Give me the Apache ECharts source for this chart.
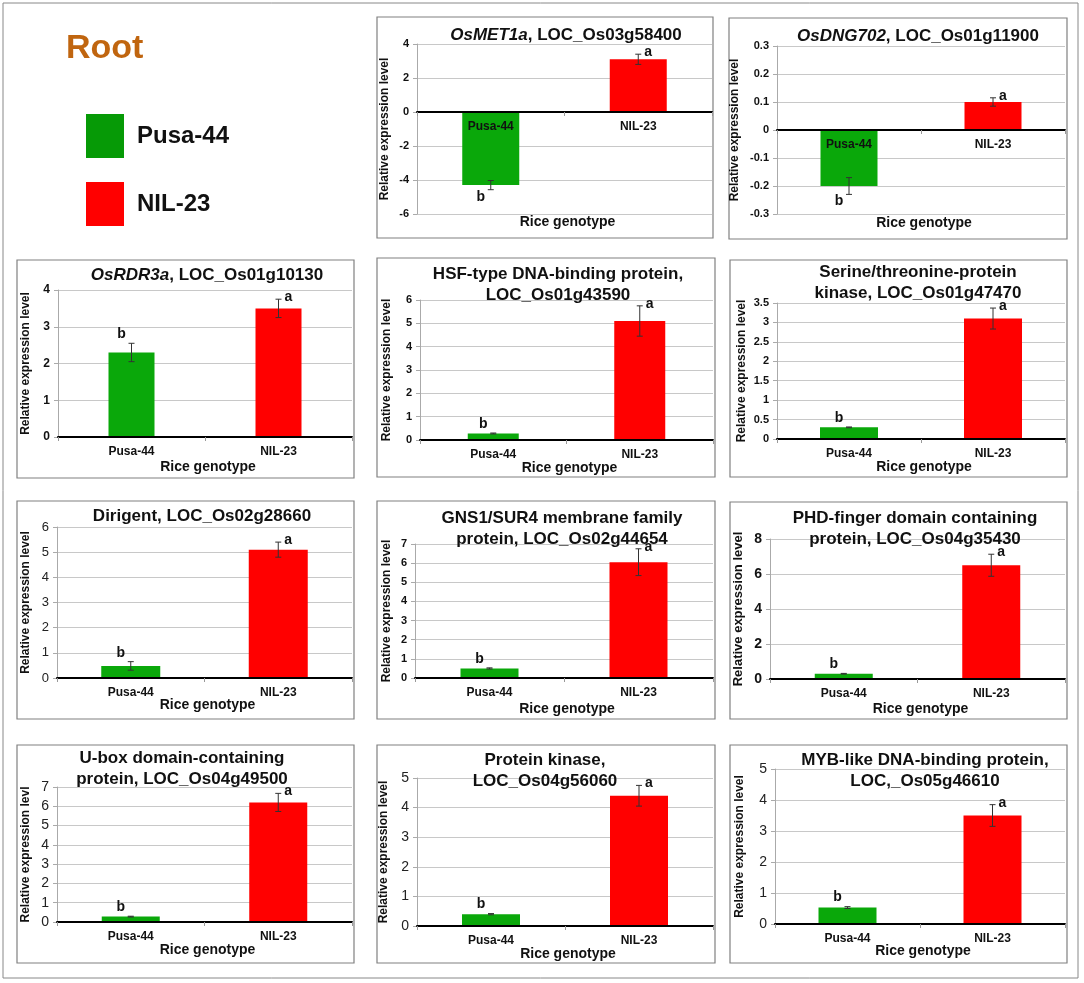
<!DOCTYPE html>
<html>
<head>
<meta charset="utf-8">
<title>Root - relative expression</title>
<script src="https://cdn.jsdelivr.net/npm/echarts@6/dist/echarts.min.js"></script>
<style>
  html, body { margin: 0; padding: 0; background: #fff; }
  #chart { width: 1084px; height: 983px; }
</style>
</head>
<body>
<div id="chart"></div>
<script>
// ---- data ----
const genotypes = ['Pusa-44', 'NIL-23'];
const geneTitles = [
  '{i|OsMET1a}, LOC_Os03g58400',
  '{i|OsDNG702}, LOC_Os01g11900',
  '{i|OsRDR3a}, LOC_Os01g10130',
  'HSF-type DNA-binding protein,\nLOC_Os01g43590',
  'Serine/threonine-protein\nkinase, LOC_Os01g47470',
  'Dirigent, LOC_Os02g28660',
  'GNS1/SUR4 membrane family\nprotein, LOC_Os02g44654',
  'PHD-finger domain containing\nprotein, LOC_Os04g35430',
  'U-box domain-containing\nprotein, LOC_Os04g49500',
  'Protein kinase,\nLOC_Os04g56060',
  'MYB-like DNA-binding protein,\nLOC,_Os05g46610'
];
const pusaValues = [-4.3, -0.2, 2.3, 0.28, 0.3, 0.48, 0.5, 0.3, 0.28, 0.4, 0.53];
const nilValues = [3.1, 0.1, 3.5, 5.1, 3.1, 5.1, 6.05, 6.5, 6.2, 4.4, 3.5];
const pusaErrors = [0.27, 0.03, 0.25, 0.02, 0.01, 0.17, 0.03, 0.02, 0.02, 0.02, 0.03];
const nilErrors = [0.3, 0.015, 0.25, 0.65, 0.27, 0.3, 0.7, 0.63, 0.47, 0.35, 0.35];
const pusaLetters = ['b', 'b', 'b', 'b', 'b', 'b', 'b', 'b', 'b', 'b', 'b'];
const nilLetters = ['a', 'a', 'a', 'a', 'a', 'a', 'a', 'a', 'a', 'a', 'a'];
const yMin = [-6, -0.3, 0, 0, 0, 0, 0, 0, 0, 0, 0];
const yMax = [4, 0.3, 4, 6, 3.5, 6, 7, 8, 7, 5, 5];
const yStep = [2, 0.1, 1, 1, 0.5, 1, 1, 2, 1, 1, 1];
const yNames = [
  'Relative expression level', 'Relative expression level', 'Relative expression level',
  'Relative expression level', 'Relative expression level', 'Relative expression level',
  'Relative expression level', 'Relative expression level', 'Relative expression levl',
  'Relative expression level', 'Relative expression level'
];
const xName = 'Rice genotype';

// ---- layout (pixels) ----
// box: panel frame, grid: plot area [l,t,r,b], title: centre of first line
const layout = [
  { box: [377, 17, 713, 238],  grid: [417, 44, 712, 214],   title: [566, 35],  barW: 57, yGap: 26, xGap: 1,  tick: 'b11' },
  { box: [729, 18, 1067, 239], grid: [777, 46, 1065, 214],  title: [918, 36],  barW: 57, yGap: 36, xGap: 2,  tick: 'b11' },
  { box: [17, 260, 354, 478],  grid: [58, 290, 352, 437],   title: [207, 275], barW: 46, yGap: 26, xGap: 23, tick: 'b12' },
  { box: [377, 258, 715, 477], grid: [420, 300, 713, 440],  title: [558, 274], barW: 51, yGap: 27, xGap: 21, tick: 'b11' },
  { box: [730, 260, 1067, 477], grid: [777, 303, 1065, 439], title: [918, 272], barW: 58, yGap: 29, xGap: 21, tick: 'b11' },
  { box: [17, 501, 354, 719],  grid: [57, 527, 352, 678],   title: [202, 516], barW: 59, yGap: 25, xGap: 20, tick: 'n13' },
  { box: [377, 501, 715, 719], grid: [415, 544, 713, 678],  title: [562, 518], barW: 58, yGap: 22, xGap: 24, tick: 'b11' },
  { box: [730, 502, 1067, 719], grid: [770, 539, 1065, 679], title: [915, 518], barW: 58, yGap: 25, xGap: 23, tick: 'b14', nameSize: 13 },
  { box: [17, 745, 354, 963],  grid: [57, 787, 352, 922],   title: [182, 758], barW: 58, yGap: 25, xGap: 21, tick: 'n14' },
  { box: [377, 745, 715, 963], grid: [417, 778, 713, 926],  title: [545, 760], barW: 58, yGap: 27, xGap: 21, tick: 'n14' },
  { box: [730, 745, 1067, 963], grid: [775, 769, 1065, 924], title: [925, 760], barW: 58, yGap: 29, xGap: 20, tick: 'n14' }
];

const FONT = '"Liberation Sans", Arial, Helvetica, sans-serif';
const GREEN = '#0aa80a';
const RED = '#ff0000';

function errorBarRenderer(letters) {
  return function (params, api) {
    const idx = api.value(0), v = api.value(1), e = api.value(2);
    const hi = api.coord([idx, v + e]);
    const lo = api.coord([idx, v - e]);
    const cx = hi[0];
    const ls = { stroke: '#333', lineWidth: 1 };
    const letter = letters[params.dataIndex];
    let tx, ty;
    if (v < 0) { tx = cx - 10; ty = lo[1] + 7; }
    else if (letter === 'a') { tx = cx + 10; ty = hi[1] - 2; }
    else { tx = cx - 10; ty = hi[1] - 9; }
    return {
      type: 'group',
      children: [
        { type: 'line', shape: { x1: cx, y1: hi[1], x2: cx, y2: lo[1] }, style: ls },
        { type: 'line', shape: { x1: cx - 3, y1: hi[1], x2: cx + 3, y2: hi[1] }, style: ls },
        { type: 'line', shape: { x1: cx - 3, y1: lo[1], x2: cx + 3, y2: lo[1] }, style: ls },
        { type: 'text', x: tx, y: ty, style: {
          text: letter, fill: '#111', font: 'bold 14px ' + FONT,
          align: 'center', verticalAlign: 'middle', textAlign: 'center', textVerticalAlign: 'middle'
        } }
      ]
    };
  };
}

const grids = [], xAxes = [], yAxes = [], series = [], titles = [], graphics = [];

titles.push({
  text: 'Root', left: 66, top: 32, padding: 0,
  textStyle: { color: '#c0650f', fontSize: 34, fontWeight: 'bold', fontFamily: FONT }
});

graphics.push({
  type: 'rect', shape: { x: 3, y: 3, width: 1075, height: 975 },
  style: { fill: 'none', stroke: '#888', lineWidth: 1 }, silent: true
});

layout.forEach((p, i) => {
  const [l, t, r, b] = p.grid;
  grids.push({ left: l, top: t, width: r - l, height: b - t, containLabel: false });

  graphics.push({
    type: 'rect',
    shape: { x: p.box[0], y: p.box[1], width: p.box[2] - p.box[0], height: p.box[3] - p.box[1] },
    style: { fill: 'none', stroke: '#808080', lineWidth: 1.2 }, silent: true
  });

  titles.push({
    text: geneTitles[i],
    left: p.title[0], top: p.title[1] - 10.5, textAlign: 'center', padding: 0,
    textStyle: {
      fontSize: 17, fontWeight: 'bold', color: '#111', lineHeight: 21, fontFamily: FONT,
      rich: { i: { fontSize: 17, fontWeight: 'bold', fontStyle: 'italic', color: '#111', fontFamily: FONT, lineHeight: 21 } }
    }
  });

  // x-axis title sits at the bottom of the plot even when the axis line is on zero
  titles.push({
    text: xName,
    left: (l + r) / 2 + 3, top: b + p.xGap, textAlign: 'center', padding: 0,
    textStyle: { color: '#111', fontWeight: 'bold', fontSize: 14, fontFamily: FONT }
  });

  const tickBold = p.tick[0] === 'b';
  const tickSize = parseInt(p.tick.slice(1), 10);

  // category axis lifted up to the zero line (labels go with it)
  const zeroLift = (b - t) * (0 - yMin[i]) / (yMax[i] - yMin[i]);
  xAxes.push({
    type: 'category', gridIndex: i, data: genotypes, position: 'bottom', z: 5,
    offset: -zeroLift,
    axisLine: { onZero: false, lineStyle: { color: '#000', width: 2 } },
    axisTick: { show: true, length: 4, lineStyle: { color: '#999' } },
    axisLabel: { color: '#111', fontWeight: 'bold', fontSize: 12, margin: 9, fontFamily: FONT },
    splitLine: { show: false }
  });

  yAxes.push({
    type: 'value', gridIndex: i, min: yMin[i], max: yMax[i], interval: yStep[i],
    axisLine: { show: true, lineStyle: { color: '#aaa' } },
    axisTick: { show: true, length: 4, lineStyle: { color: '#aaa' } },
    splitLine: { show: true, lineStyle: { color: '#c8c8c8', width: 1 } },
    axisLabel: {
      color: tickBold ? '#111' : '#222', fontWeight: tickBold ? 'bold' : 'normal',
      fontSize: tickSize, margin: 8, fontFamily: FONT,
      formatter: v => String(Math.round(v * 100) / 100)
    },
    name: yNames[i], nameLocation: 'middle', nameRotate: 90, nameGap: p.yGap,
    nameTextStyle: { color: '#111', fontWeight: 'bold', fontSize: p.nameSize || 12, fontFamily: FONT }
  });

  series.push({
    type: 'bar', name: genotypes[0], xAxisIndex: i, yAxisIndex: i,
    barWidth: p.barW, barGap: '-100%', z: 2,
    itemStyle: { color: GREEN },
    data: [pusaValues[i], '-']
  });
  series.push({
    type: 'bar', name: genotypes[1], xAxisIndex: i, yAxisIndex: i,
    barWidth: p.barW, barGap: '-100%', z: 2,
    itemStyle: { color: RED },
    data: ['-', nilValues[i]]
  });
  series.push({
    type: 'custom', name: 'error' + i, xAxisIndex: i, yAxisIndex: i, z: 6,
    renderItem: errorBarRenderer([pusaLetters[i], nilLetters[i]]),
    data: [[0, pusaValues[i], pusaErrors[i]], [1, nilValues[i], nilErrors[i]]]
  });
});

const chart = echarts.init(document.getElementById('chart'));
chart.setOption({
  animation: false,
  backgroundColor: '#fff',
  textStyle: { fontFamily: FONT },
  title: titles,
  legend: {
    data: [
      { name: genotypes[0], icon: 'rect', itemStyle: { color: '#069a06' } },
      { name: genotypes[1], icon: 'rect', itemStyle: { color: RED } }
    ],
    orient: 'vertical', left: 86, top: 114, padding: 0,
    itemWidth: 38, itemHeight: 44, itemGap: 24, selectedMode: false,
    textStyle: { fontSize: 24, fontWeight: 'bold', color: '#111', fontFamily: FONT, padding: [0, 0, 0, 8] }
  },
  grid: grids,
  xAxis: xAxes,
  yAxis: yAxes,
  series: series,
  graphic: graphics
});
</script>
</body>
</html>
